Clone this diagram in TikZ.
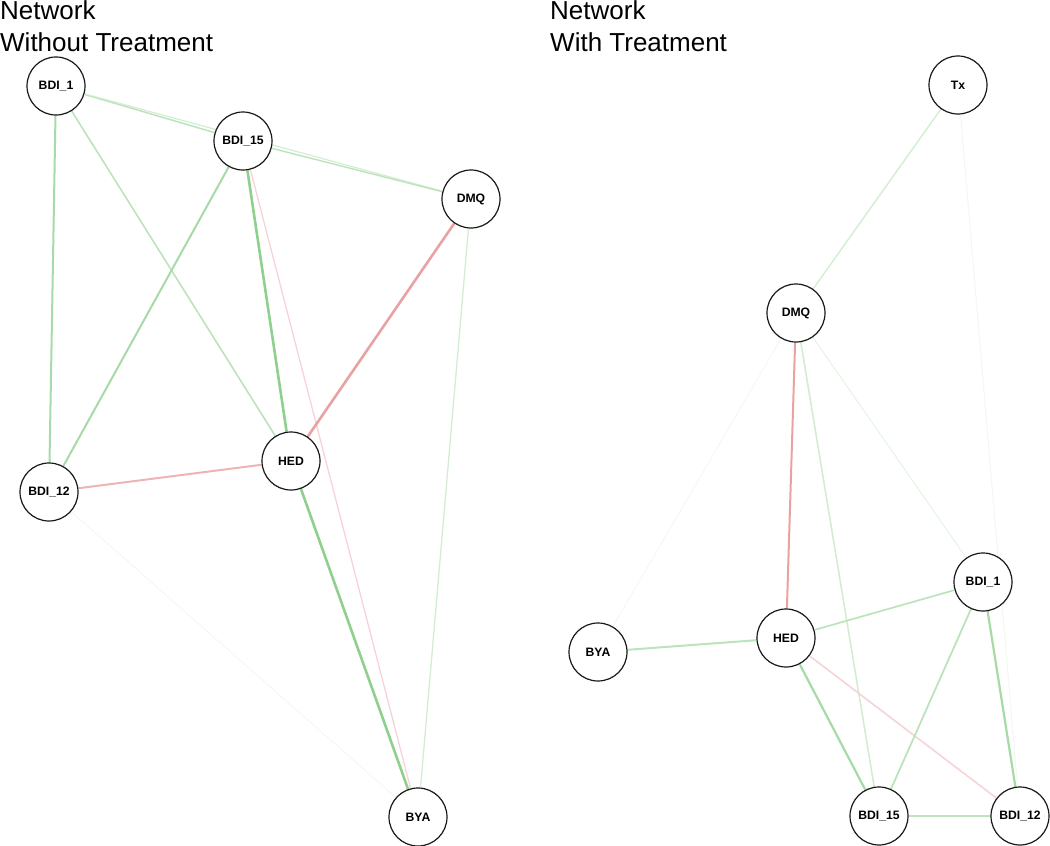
\documentclass[tikz,border=0pt]{standalone}
\usepackage{fontspec}
\setmainfont{Liberation Sans}
\pgfdeclarelayer{edgelayer}
\pgfsetlayers{edgelayer,main}
\begin{document}
\begin{tikzpicture}[x=1pt,y=-1pt,
  vnode/.style={circle,draw=black!90,line width=1.2pt,fill=white,minimum size=58pt,inner sep=0pt,font=\fontsize{12.2}{13}\selectfont\bfseries},
  ttl/.style={anchor=base west,inner sep=0pt,font=\fontsize{26}{28}\selectfont},
  e/.style={line width=#1},
]
\useasboundingbox (0,0) rectangle (1050,846);
\definecolor{gA}{HTML}{8FD08F}
\definecolor{gB}{HTML}{A6DAA6}
\definecolor{gC}{HTML}{BCE3BC}
\definecolor{gD}{HTML}{D2EDD2}
\definecolor{gE}{HTML}{E6F5E6}
\definecolor{gF}{HTML}{F0F8F0}
\definecolor{rA}{HTML}{E9A2A2}
\definecolor{rB}{HTML}{EDB4B4}
\definecolor{rC}{HTML}{F5D3D6}

% titles
\node[ttl] (t1a) at (0,19.5) {Network};
\node[ttl] (t1b) at (0,51) {Without Treatment};
\node[ttl] (t2a) at (550,19.5) {Network};
\node[ttl] (t2b) at (550,51) {With Treatment};

% left network
\node[vnode] (LB1) at (56,86) {BDI\_1};
\node[vnode] (LB15) at (243,141) {BDI\_15};
\node[vnode] (LDMQ) at (471,199) {DMQ};
\node[vnode] (LHED) at (291,461) {HED};
\node[vnode] (LB12) at (49,492) {BDI\_12};
\node[vnode] (LBYA) at (418,817) {BYA};

% right network
\node[vnode] (RTx) at (958,85) {Tx};
\node[vnode] (RDMQ) at (796,313) {DMQ};
\node[vnode] (RB1) at (983,582) {BDI\_1};
\node[vnode] (RHED) at (786,638) {HED};
\node[vnode] (RBYA) at (598,652) {BYA};
\node[vnode] (RB15) at (879,816) {BDI\_15};
\node[vnode] (RB12) at (1020,816) {BDI\_12};

\begin{pgfonlayer}{edgelayer}
\draw[gC,e=1.5pt] (LB1) -- (LB15);
\draw[gD,e=1.2pt] (LB1) -- (LDMQ);
\draw[gB,e=2pt] (LB1) -- (LB12);
\draw[gC,e=1.6pt] (LB1) -- (LHED);
\draw[gC,e=1.4pt] (LB15) -- (LDMQ);
\draw[gB,e=2pt] (LB15) -- (LB12);
\draw[gA,e=2.6pt] (LB15) -- (LHED);
\draw[rC,e=1.3pt] (LB15) -- (LBYA);
\draw[rA,e=2.6pt] (LDMQ) -- (LHED);
\draw[gD,e=1.3pt] (LDMQ) -- (LBYA);
\draw[rB,e=2pt] (LB12) -- (LHED);
\draw[gF,e=0.9pt] (LB12) -- (LBYA);
\draw[gA,e=2.6pt] (LHED) -- (LBYA);

\draw[gD,e=1.4pt] (RTx) -- (RDMQ);
\draw[gF,e=1.1pt] (RTx) -- (RB12);
\draw[rA,e=2pt] (RDMQ) -- (RHED);
\draw[gF,e=0.9pt] (RDMQ) -- (RBYA);
\draw[gD,e=1.6pt] (RDMQ) -- (RB15);
\draw[gE,e=1.1pt] (RDMQ) -- (RB1);
\draw[gC,e=2pt] (RBYA) -- (RHED);
\draw[gC,e=1.7pt] (RHED) -- (RB1);
\draw[gB,e=2.2pt] (RHED) -- (RB15);
\draw[rC,e=1.6pt] (RHED) -- (RB12);
\draw[gC,e=1.8pt] (RB1) -- (RB15);
\draw[gB,e=2.2pt] (RB1) -- (RB12);
\draw[gC,e=2pt] (RB15) -- (RB12);
\end{pgfonlayer}
\end{tikzpicture}
\end{document}
